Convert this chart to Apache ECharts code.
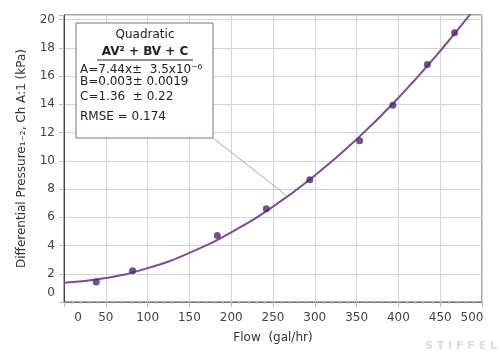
<!DOCTYPE html>
<html>
<head>
<meta charset="utf-8">
<script src="https://cdn.jsdelivr.net/npm/echarts@6/dist/echarts.min.js"></script>
<style>html,body{margin:0;padding:0;background:#fff}#c{width:500px;height:355px}</style>
</head>
<body>
<div id="c"></div>
<script>
// Measured points (Flow gal/hr, Differential Pressure kPa)
var flow = [38.6, 82, 183.4, 242, 294, 353.6, 393.4, 434.6, 467.2];
var pressure = [1.42, 2.22, 4.71, 6.60, 8.66, 11.42, 13.94, 16.82, 19.08];
// Fitted quadratic curve
var curveFlow = [0, 50, 100, 150, 200, 250, 300, 350, 400, 450, 500];
var curvePressure = [1.36, 1.70, 2.40, 3.48, 4.94, 6.76, 8.96, 11.52, 14.46, 17.78, 21.46];
// Tick labels
var xTicks = [0, 50, 100, 150, 200, 250, 300, 350, 400, 450, 500];
var yTicks = [0, 2, 4, 6, 8, 10, 12, 14, 16, 18, 20];
// Annotation text
var fitTitle = 'Quadratic';
var fitEq = 'AV\u00B2 + BV + C';
var fitLines = ['A=7.44x\u00B1  3.5x10\u207B\u2076', 'B=0.003\u00B1 0.0019', 'C=1.36  \u00B1 0.22'];
var fitRmse = 'RMSE = 0.174';
var xName = 'Flow  (gal/hr)';
var yName = 'Differential Pressure\u2081\u208B\u2082, Ch A:1 (kPa)';

var F = 'DejaVu Sans';
var chart = echarts.init(document.getElementById('c'), null, {renderer: 'canvas'});
var ptData = flow.map(function (v, i) { return [v, pressure[i]]; });
var cvData = curveFlow.map(function (v, i) { return [v, curvePressure[i]]; });

chart.setOption({
  animation: false,
  backgroundColor: '#fff',
  textStyle: {fontFamily: F},
  grid: {left: 64, right: 18, top: 15, bottom: 53, show: true, borderColor: '#555', borderWidth: 1, backgroundColor: 'transparent'},
  xAxis: {
    type: 'value', min: xTicks[0], max: xTicks[xTicks.length - 1], interval: 50,
    name: xName, nameLocation: 'middle', nameGap: 30,
    nameTextStyle: {fontFamily: F, fontSize: 12, color: '#333'},
    axisLine: {show: true, lineStyle: {color: '#777'}},
    axisTick: {show: true, length: 5, lineStyle: {color: '#bbb'}},
    minorTick: {show: true, splitNumber: 5, length: 2, lineStyle: {color: '#ccc'}},
    splitLine: {show: true, lineStyle: {color: '#d4d4d4'}},
    axisLabel: {
      fontFamily: F, fontSize: 12, color: '#444', margin: 10,
      formatter: function (v) {
        if (xTicks.indexOf(v) < 0) return '';
        if (v === xTicks[0]) return '{l|' + v + '}';
        if (v === xTicks[xTicks.length - 1]) return '{r|' + v + '}';
        return String(v);
      },
      rich: {
        l: {fontFamily: F, fontSize: 12, color: '#444', padding: [0, 0, 0, 28]},
        r: {fontFamily: F, fontSize: 12, color: '#444', padding: [0, 20, 0, 0]}
      }
    }
  },
  yAxis: {
    type: 'value', min: yTicks[0], max: 20.33, interval: 2,
    name: yName, nameLocation: 'middle', nameGap: 36,
    nameTextStyle: {fontFamily: F, fontSize: 12, color: '#333'},
    axisLine: {show: true, lineStyle: {color: '#444'}},
    axisTick: {show: true, length: 5, lineStyle: {color: '#bbb'}},
    splitLine: {show: true, lineStyle: {color: '#d4d4d4'}},
    axisLabel: {
      fontFamily: F, fontSize: 12, color: '#444', margin: 9, showMaxLabel: true,
      formatter: function (v) {
        if (yTicks.indexOf(v) < 0) return '';
        if (v === 0) return '{z|0}';
        return String(v);
      },
      rich: {z: {fontFamily: F, fontSize: 12, color: '#444', padding: [0, 0, 18, 0]}}
    }
  },
  series: [
    {
      type: 'line', data: cvData, smooth: 0.5, showSymbol: false, clip: true,
      lineStyle: {color: '#7a4c9e', width: 2}, z: 3
    },
    {
      type: 'scatter', data: ptData, symbol: 'circle', symbolSize: 7,
      itemStyle: {color: '#4a2a6e'}, z: 4
    }
  ],
  graphic: [
    {type: 'line', shape: {x1: 213, y1: 138, x2: 287, y2: 196}, style: {stroke: '#aaa', lineWidth: 1}, z: 10},
    {type: 'rect', shape: {x: 76, y: 23, width: 137, height: 115}, style: {fill: '#fff', stroke: '#7d6e91', lineWidth: 1}, z: 11},
    {type: 'text', x: 145, y: 35, style: {text: fitTitle, font: '12px "DejaVu Sans"', fill: '#222', textAlign: 'center', textVerticalAlign: 'middle'}, z: 12},
    {type: 'text', x: 145, y: 52, style: {text: fitEq, font: 'bold 12px "DejaVu Sans"', fill: '#222', textAlign: 'center', textVerticalAlign: 'middle'}, z: 12},
    {type: 'line', shape: {x1: 97, y1: 60, x2: 193, y2: 60}, style: {stroke: '#222', lineWidth: 1}, z: 12},
    {type: 'text', x: 80, y: 70, style: {text: fitLines[0], font: '12px "DejaVu Sans"', fill: '#222', textAlign: 'left', textVerticalAlign: 'middle'}, z: 12},
    {type: 'text', x: 80, y: 82, style: {text: fitLines[1], font: '12px "DejaVu Sans"', fill: '#222', textAlign: 'left', textVerticalAlign: 'middle'}, z: 12},
    {type: 'text', x: 80, y: 97, style: {text: fitLines[2], font: '12px "DejaVu Sans"', fill: '#222', textAlign: 'left', textVerticalAlign: 'middle'}, z: 12},
    {type: 'text', x: 80, y: 117, style: {text: fitRmse, font: '12px "DejaVu Sans"', fill: '#222', textAlign: 'left', textVerticalAlign: 'middle'}, z: 12},
    {type: 'text', x: 497, y: 346, style: {text: 'S T I F F E L', font: 'bold 11px "DejaVu Sans"', fill: '#dcdcdc', textAlign: 'right', textVerticalAlign: 'middle'}, z: 12}
  ]
});
</script>
</body>
</html>
